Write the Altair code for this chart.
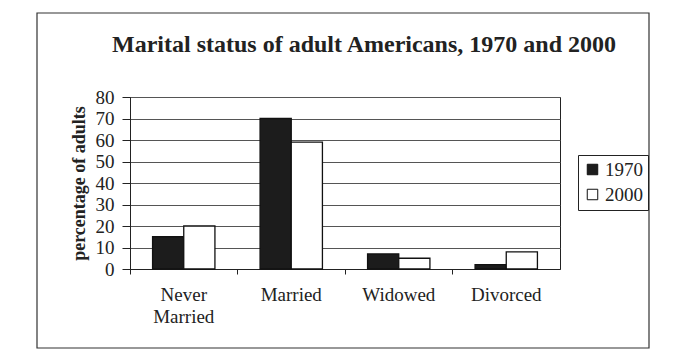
import altair as alt
import pandas as pd

categories = ["Never Married", "Married", "Widowed", "Divorced"]
years = ["1970", "2000"]
values_1970 = [15, 70, 7, 2]
values_2000 = [20, 59, 5, 8]
y_ticks = [0, 10, 20, 30, 40, 50, 60, 70, 80]

rows = []
for c, a, b in zip(categories, values_1970, values_2000):
    rows.append({"status": c, "year": "1970", "pct": a})
    rows.append({"status": c, "year": "2000", "pct": b})
df = pd.DataFrame(rows)

FONT = "Liberation Serif"
W, H = 430, 172

bars = alt.Chart(df).mark_bar(stroke="#111111", strokeWidth=1.3).encode(
    x=alt.X("status:N", sort=categories, title=None,
            scale=alt.Scale(paddingInner=0.42, paddingOuter=0.21),
            axis=alt.Axis(labelAngle=0, labelFont=FONT, labelFontSize=19,
                          labelColor="#222222", labelPadding=11,
                          labelExpr="datum.value == 'Never Married' ? ['Never', 'Married'] : datum.value",
                          labelLineHeight=22, domainColor="#222222",
                          tickColor="#222222", tickSize=5, bandPosition=-0.362,
                          grid=False)),
    xOffset=alt.XOffset("year:N", sort=years),
    y=alt.Y("pct:Q", title="percentage of adults",
            scale=alt.Scale(domain=[0, 80], nice=False),
            axis=alt.Axis(values=y_ticks, labelFont=FONT, labelFontSize=19,
                          labelColor="#222222", titleFont=FONT, titleFontSize=18,
                          titleFontWeight="bold", titleColor="#222222",
                          titlePadding=7, domainColor="#222222",
                          tickColor="#222222", tickSize=8, labelPadding=8,
                          grid=True, gridColor="#555555", gridWidth=1)),
    color=alt.Color("year:N", sort=years,
                    scale=alt.Scale(domain=years, range=["#1c1c1c", "#ffffff"]),
                    legend=alt.Legend(title=None, orient="none", legendX=448, legendY=58,
                                      symbolType="square", symbolSize=110,
                                      symbolStrokeColor="#111111", symbolStrokeWidth=1,
                                      labelFont=FONT, labelFontSize=19,
                                      labelColor="#222222", strokeColor="#222222",
                                      padding=5, rowPadding=5, labelOffset=3)),
)

border = alt.Chart(alt.Data(values=[{}])).mark_rect(
    fill=None, stroke="#333333", strokeWidth=1.2
).encode(
    x=alt.value(-93), x2=alt.value(W + 89),
    y=alt.value(-84), y2=alt.value(H + 79),
)

chart = alt.layer(border, bars).properties(
    width=W, height=H,
    padding={"left": 28, "top": 4, "right": 5, "bottom": 5},
    background="white",
    title=alt.Title("Marital status of adult Americans, 1970 and 2000",
                    font=FONT, fontSize=24, fontWeight="bold", color="#222222",
                    anchor="middle", dx=19, offset=-45),
).configure_view(stroke="#222222", strokeWidth=1).configure_legend(
    labelFont=FONT, labelFontSize=19
)

chart.save("out.html", embed_options={"renderer": "svg", "actions": False})
